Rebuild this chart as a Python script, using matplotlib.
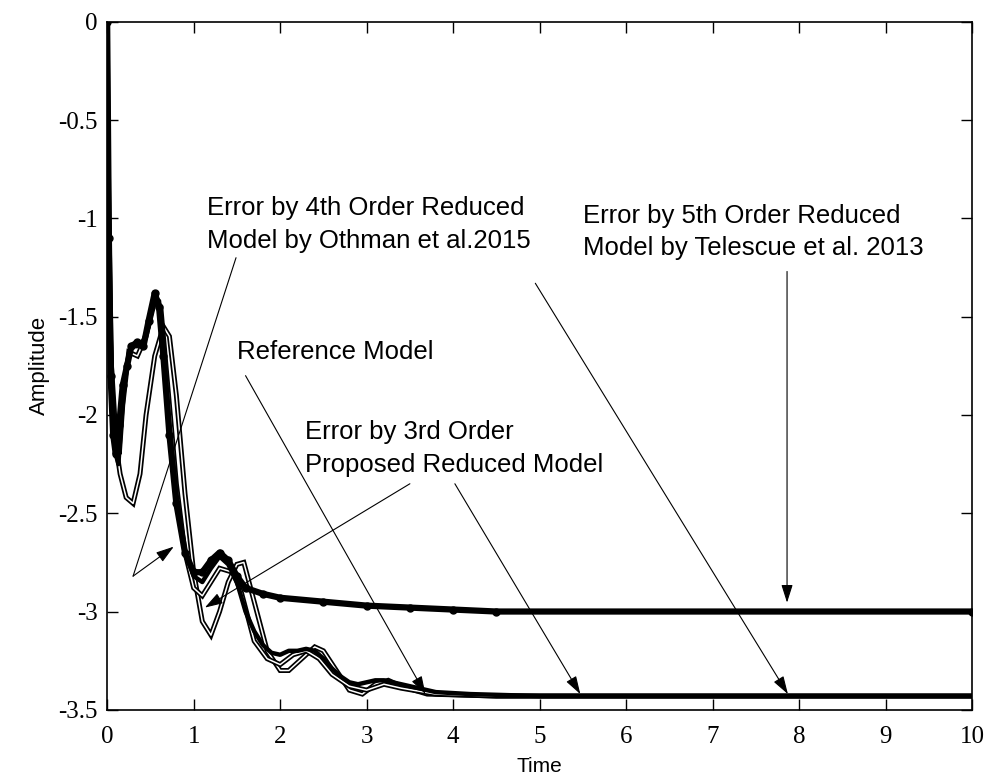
import matplotlib
matplotlib.use("Agg")
import matplotlib.pyplot as plt

# Error responses
t_ref = [0, 0.02, 0.04, 0.07, 0.10, 0.13, 0.17, 0.22, 0.28, 0.35, 0.42, 0.48, 0.55, 0.60, 0.65,
         0.72, 0.80, 0.90, 1.00, 1.10, 1.20, 1.30, 1.40, 1.50, 1.60, 1.70, 1.80, 1.90, 2.00,
         2.10, 2.20, 2.30, 2.40, 2.50, 2.60, 2.70, 2.80, 2.90, 3.00, 3.10, 3.20, 3.30, 3.50,
         3.80, 4.20, 5.00, 10.0]
y_ref = [0, -0.9, -1.6, -1.95, -2.2, -2.25, -2.0, -1.75, -1.65, -1.65, -1.62, -1.55, -1.4, -1.42,
         -1.65, -2.05, -2.4, -2.7, -2.82, -2.85, -2.78, -2.72, -2.76, -2.85, -3.0, -3.1, -3.17,
         -3.21, -3.22, -3.2, -3.2, -3.19, -3.2, -3.24, -3.29, -3.33, -3.36, -3.37, -3.36, -3.35,
         -3.35, -3.36, -3.38, -3.41, -3.42, -3.43, -3.43]

t_prop = [0, 0.02, 0.05, 0.10, 0.14, 0.18, 0.25, 0.35, 0.45, 0.55, 0.62, 0.70, 0.80, 0.90, 1.00,
          1.10, 1.20, 1.30, 1.45, 1.55, 1.70, 1.85, 2.00, 2.15, 2.30, 2.45, 2.60, 2.80, 3.00,
          3.20, 3.40, 3.80, 4.50, 10.0]
y_prop = [0, -1.0, -1.75, -2.1, -2.2, -1.95, -1.68, -1.7, -1.6, -1.42, -1.45, -1.85, -2.35, -2.7,
          -2.88, -2.92, -2.85, -2.78, -2.8, -2.9, -3.15, -3.24, -3.27, -3.22, -3.2, -3.24, -3.32,
          -3.38, -3.4, -3.37, -3.39, -3.42, -3.43, -3.43]

t_oth = [0, 0.02, 0.05, 0.10, 0.15, 0.22, 0.30, 0.38, 0.45, 0.55, 0.65, 0.72, 0.80, 0.90, 1.00,
         1.10, 1.20, 1.30, 1.40, 1.50, 1.58, 1.70, 1.85, 2.00, 2.10, 2.25, 2.40, 2.50, 2.65,
         2.80, 2.95, 3.10, 3.25, 3.40, 3.70, 4.50, 10.0]
y_oth = [-0.3, -1.2, -1.85, -2.15, -2.3, -2.42, -2.45, -2.3, -2.0, -1.7, -1.55, -1.6, -1.9, -2.4,
         -2.8, -3.05, -3.12, -3.0, -2.85, -2.76, -2.75, -2.95, -3.2, -3.3, -3.3, -3.24, -3.18,
         -3.2, -3.3, -3.4, -3.42, -3.37, -3.35, -3.38, -3.42, -3.43, -3.43]

t_tel = [0, 0.02, 0.04, 0.07, 0.10, 0.14, 0.18, 0.23, 0.28, 0.35, 0.42, 0.48, 0.55, 0.60, 0.65,
         0.72, 0.80, 0.90, 1.00, 1.10, 1.20, 1.30, 1.40, 1.50, 1.60, 1.80, 2.00, 2.50, 3.00,
         3.50, 4.00, 4.50, 10.0]
y_tel = [0, -1.1, -1.8, -2.1, -2.2, -2.05, -1.85, -1.75, -1.65, -1.63, -1.65, -1.52, -1.38, -1.45,
         -1.7, -2.1, -2.45, -2.7, -2.8, -2.8, -2.74, -2.7, -2.74, -2.82, -2.88, -2.91, -2.93,
         -2.95, -2.97, -2.98, -2.99, -3.0, -3.0]

x_ticks = list(range(0, 11))
y_ticks = [-3.5, -3, -2.5, -2, -1.5, -1, -0.5, 0]
y_tick_labels = ['-3.5', '-3', '-2.5', '-2', '-1.5', '-1', '-0.5', '0']

fig = plt.figure(figsize=(9.92, 7.80), dpi=100)
ax = fig.add_axes([0.108, 0.09, 0.872, 0.882])

def outlined(t, y):
    ax.plot(t, y, color='black', lw=3.6, solid_joinstyle='miter')
    ax.plot(t, y, color='white', lw=1.1)

outlined(t_oth, y_oth)
outlined(t_prop, y_prop)
ax.plot(t_ref, y_ref, color='black', lw=3.2)
ax.plot(t_tel, y_tel, color='black', lw=4.5, marker='.', markersize=10)

ax.set_xlim(0, 10)
ax.set_ylim(-3.5, 0)
ax.set_xticks(x_ticks)
ax.set_yticks(y_ticks)
ax.set_yticklabels(y_tick_labels)
ax.tick_params(direction='in', top=True, right=True, length=8, width=1, labelsize=18, pad=7)
ax.tick_params(axis='x', pad=12)
for lab in ax.get_xticklabels() + ax.get_yticklabels():
    lab.set_family('Liberation Serif')
for s in ax.spines.values():
    s.set_linewidth(1.2)

ax.set_xlabel('Time', fontsize=15, family='Liberation Sans', labelpad=6)
ax.set_ylabel('Amplitude', fontsize=16, family='Liberation Sans', labelpad=6)

tk = dict(fontsize=18.5, family='Liberation Sans', va='center', ha='left', linespacing=1.45)
ap = dict(arrowstyle='-|>,head_length=1.1,head_width=0.35', color='black', lw=0.8,
          shrinkA=0, shrinkB=0)
lp = dict(arrowstyle='-', color='black', lw=0.8, shrinkA=0, shrinkB=0)

# Othman annotation
ax.text(1.15, -1.03, 'Error by 4th Order Reduced\nModel by Othman et al.2015', **tk)
ax.annotate('', xy=(0.30, -2.82), xytext=(1.49, -1.20), arrowprops=lp)
ax.annotate('', xy=(0.77, -2.67), xytext=(0.30, -2.82), arrowprops=ap)
ax.annotate('', xy=(7.87, -3.42), xytext=(4.95, -1.33), arrowprops=ap)

# Telescue annotation
ax.text(5.50, -1.07, 'Error by 5th Order Reduced\nModel by Telescue et al. 2013', **tk)
ax.annotate('', xy=(7.86, -2.955), xytext=(7.86, -1.27), arrowprops=ap)

# Reference annotation
ax.text(1.50, -1.68, 'Reference Model', **tk)
ax.annotate('', xy=(3.68, -3.42), xytext=(1.60, -1.80), arrowprops=ap)

# Proposed annotation
ax.text(2.29, -2.17, 'Error by 3rd Order\nProposed Reduced Model', **tk)
ax.annotate('', xy=(1.13, -2.98), xytext=(3.50, -2.35), arrowprops=ap)
ax.annotate('', xy=(5.47, -3.42), xytext=(4.02, -2.35), arrowprops=ap)

fig.savefig('out.png', dpi=100)
